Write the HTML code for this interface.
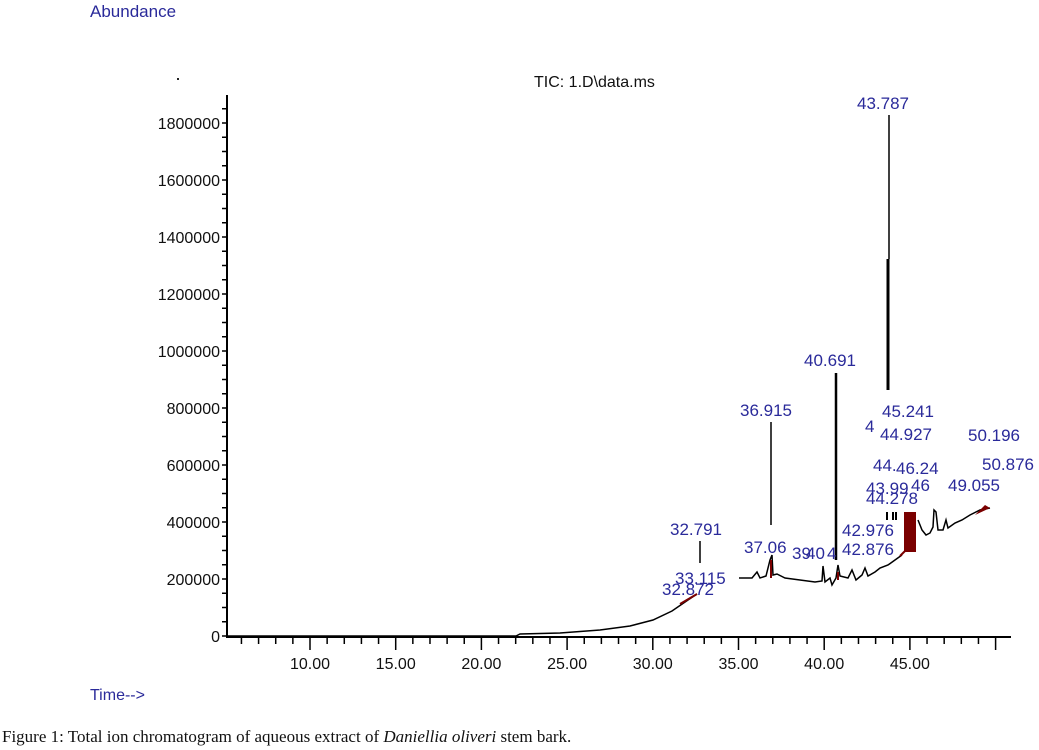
<!DOCTYPE html>
<html><head><meta charset="utf-8"><style>
body{margin:0;background:#fff;}
svg{display:block;font-family:"Liberation Sans",Arial,sans-serif;}
.b{fill:#2a2a9a;font-size:17px;}
.k{fill:#111;font-size:16px;}
</style></head><body>
<svg id="s" width="1039" height="750" viewBox="0 0 1039 750">
<text x="90" y="17" class="b" style="font-size:17px">Abundance</text>
<rect x="177" y="78" width="2" height="2" fill="#222"/>
<text x="534" y="87" style="font-size:16px" fill="#111">TIC: 1.D\data.ms</text>
<g stroke="#000" stroke-width="2" fill="none">
<line x1="227" y1="95" x2="227" y2="637"/>
<line x1="226" y1="637" x2="1011" y2="637"/>
</g>
<g id="ticks" stroke="#000" stroke-width="1.5"></g>
<g id="ylab" class="k"></g>
<g id="xlab" class="k"></g>
<polyline fill="none" stroke="#000" stroke-width="1.5" points="228,636 516,636 520,634 560,633 600,630 630,626 653,620 672,611 688,600 697,594"/>
<polyline fill="none" stroke="#7a0000" stroke-width="2" points="680,604 697,594"/>
<polyline fill="none" stroke="#000" stroke-width="1.5" points="739,578 752,578 757,572 760,578 766,576 770,560 772,555 773,575 777,574 785,578 800,580 815,582 822,581 823,566 825,582 830,578 832,585 836,578 838,565 840,576 848,578 852,570 856,580 862,575 865,568 868,576 875,572 880,568 888,565 895,560 902,555"/>
<polyline fill="none" stroke="#000" stroke-width="1.5" points="918,520 922,530 926,535 930,533 933,527 934,510 936,512 938,530 943,530 946,520 948,528 955,523 962,520 970,515 980,510 990,508"/>
<g stroke="#7a0000" stroke-width="2">
<line x1="771" y1="560" x2="771" y2="578"/>
<line x1="838" y1="572" x2="838" y2="580"/>
<line x1="900" y1="556" x2="908" y2="548"/>
</g>
<rect x="904" y="512" width="12" height="40" fill="#7a0000"/>
<polygon points="975,515 985,505 990,508" fill="#7a0000"/>
<g stroke="#000">
<line x1="889" y1="115" x2="889" y2="259" stroke-width="1.5"/>
<line x1="888" y1="259" x2="888" y2="390" stroke-width="3"/>
<line x1="836" y1="373" x2="836" y2="560" stroke-width="2.5"/>
<line x1="771" y1="422" x2="771" y2="525" stroke-width="1.5"/>
<line x1="700" y1="541" x2="700" y2="563" stroke-width="1.5"/>
<line x1="887" y1="512" x2="887" y2="520" stroke-width="2"/>
<line x1="893" y1="512" x2="893" y2="520" stroke-width="2"/>
<line x1="896" y1="512" x2="896" y2="520" stroke-width="2"/>
</g>
<g class="b">
<text x="857" y="109">43.787</text>
<text x="804" y="366">40.691</text>
<text x="740" y="416">36.915</text>
<text x="670" y="535">32.791</text>
<text x="662" y="595">32.872</text>
<text x="675" y="584">33.115</text>
<text x="744" y="553">37.06</text>
<text x="792" y="559">39</text>
<text x="806" y="559">40</text>
<text x="827" y="559">4</text>
<text x="842" y="536">42.976</text>
<text x="842" y="555">42.876</text>
<text x="882" y="417">45.241</text>
<text x="865" y="432">4</text>
<text x="880" y="440">44.927</text>
<text x="873" y="471">44.</text>
<text x="896" y="474">46.24</text>
<text x="866" y="494">43.99</text>
<text x="911" y="491">46</text>
<text x="866" y="504">44.278</text>
<text x="968" y="441">50.196</text>
<text x="982" y="470">50.876</text>
<text x="948" y="491">49.055</text>
</g>
<text x="90" y="700" class="b" style="font-size:16px">Time--&gt;</text>
<text x="2" y="742" style="font-family:'Liberation Serif',serif;font-size:17px" fill="#111">Figure 1: Total ion chromatogram of aqueous extract of <tspan font-style="italic">Daniellia oliveri</tspan> stem bark.</text>
</svg>
<script>
var NS="http://www.w3.org/2000/svg",t=document.getElementById('ticks'),yl=document.getElementById('ylab'),xl=document.getElementById('xlab');
function L(a,b,c,d){var l=document.createElementNS(NS,'line');l.setAttribute('x1',a);l.setAttribute('y1',b);l.setAttribute('x2',c);l.setAttribute('y2',d);t.appendChild(l);}
function T(g,x,y,s,anc){var e=document.createElementNS(NS,'text');e.setAttribute('x',x);e.setAttribute('y',y);if(anc)e.setAttribute('text-anchor',anc);e.textContent=s;g.appendChild(e);}
for(var v=0;v<=1900000;v+=50000){var y=636-v*0.000285;if(y<96)break;L(222,y,227,y);if(v%200000==0)T(yl,220,y+6,String(v),'end');}
for(var m=6;m<=50;m++){var x=310+(m-10)*17.14;L(x,637,x,m%5==0?650:644);if(m%5==0&&m<50)T(xl,x,669,m.toFixed(2),'middle');}
</script>
</body></html>
